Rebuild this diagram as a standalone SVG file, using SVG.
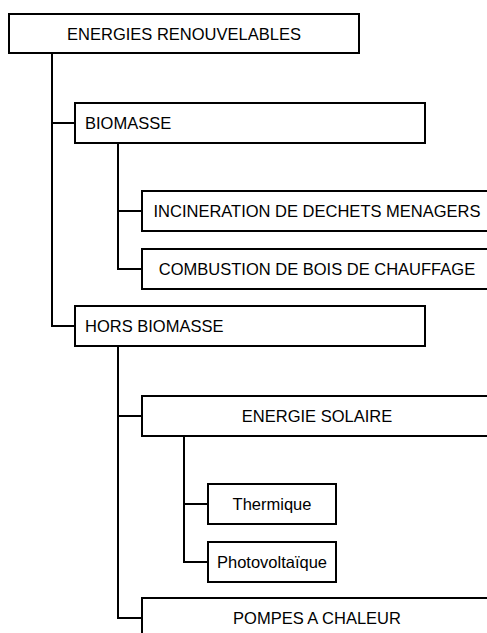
<svg xmlns="http://www.w3.org/2000/svg" width="487" height="633" viewBox="0 0 487 633">
  <style>
    .box { fill: #ffffff; stroke: #000000; stroke-width: 2; }
    .link { fill: none; stroke: #000000; stroke-width: 2; stroke-linejoin: miter; }
    text { font-family: "Liberation Sans", Arial, sans-serif; font-size: 16.5px; fill: #000000; }
    .c { text-anchor: middle; }
    .l { text-anchor: start; }
  </style>
  <rect width="487" height="633" fill="#ffffff"/>

  <!-- tree connectors -->
  <g id="connectors">
    <path class="link" d="M52 53 V326 H75 M52 123 H75"/>
    <path class="link" d="M118 143 V269 H142 M118 211 H142"/>
    <path class="link" d="M118 346 V618 H142 M118 416 H142"/>
    <path class="link" d="M184 436 V562 H208 M184 504 H208"/>
  </g>

  <g id="energies-renouvelables">
    <rect class="box" x="9" y="14" width="350" height="39"/>
    <text class="c" x="184" y="39.5">ENERGIES RENOUVELABLES</text>
  </g>

  <g id="biomasse">
    <rect class="box" x="75" y="103" width="350" height="40"/>
    <text class="l" x="85" y="129">BIOMASSE</text>
  </g>

  <g id="incineration">
    <rect class="box" x="142" y="191" width="350" height="40"/>
    <text class="c" x="317" y="217">INCINERATION DE DECHETS MENAGERS</text>
  </g>

  <g id="combustion">
    <rect class="box" x="142" y="249" width="350" height="40"/>
    <text class="c" x="317" y="275">COMBUSTION DE BOIS DE CHAUFFAGE</text>
  </g>

  <g id="hors-biomasse">
    <rect class="box" x="75" y="306" width="350" height="40"/>
    <text class="l" x="85" y="332">HORS BIOMASSE</text>
  </g>

  <g id="energie-solaire">
    <rect class="box" x="142" y="396" width="350" height="40"/>
    <text class="c" x="317" y="422">ENERGIE SOLAIRE</text>
  </g>

  <g id="thermique">
    <rect class="box" x="208" y="484" width="128" height="40"/>
    <text class="c" x="272" y="510">Thermique</text>
  </g>

  <g id="photovoltaique">
    <rect class="box" x="208" y="542" width="128" height="40"/>
    <text class="c" x="272" y="568">Photovoltaïque</text>
  </g>

  <g id="pompes-a-chaleur">
    <rect class="box" x="142" y="598" width="350" height="40"/>
    <text class="c" x="317" y="624">POMPES A CHALEUR</text>
  </g>
</svg>
